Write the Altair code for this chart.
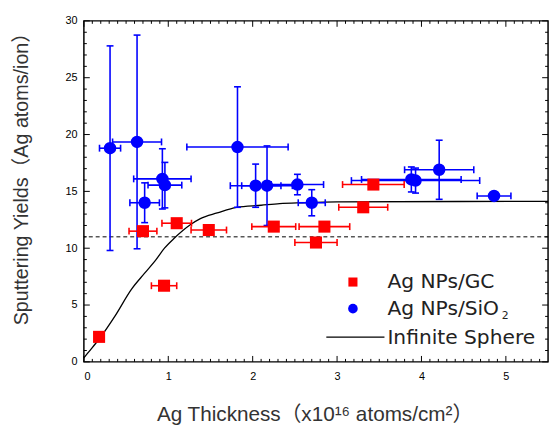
import altair as alt
import pandas as pd
import numpy as np

# ---- data ----
gc_x = [0.18, 0.70, 1.10, 0.95, 1.48, 2.25, 2.85, 2.75, 3.31, 3.43]
gc_y = [2.2, 11.5, 12.2, 6.7, 11.6, 11.9, 11.9, 10.5, 13.6, 15.6]
gc_xerr = [0.0, 0.165, 0.175, 0.15, 0.21, 0.26, 0.30, 0.25, 0.29, 0.365]

sio_x = [0.31, 0.63, 0.72, 0.93, 0.96, 1.82, 2.035, 2.17, 2.53, 2.70, 3.88, 3.93, 4.21, 4.86]
sio_y = [18.8, 19.35, 14.0, 16.1, 15.55, 18.9, 15.5, 15.5, 15.6, 14.0, 16.05, 15.95, 16.9, 14.6]
sio_xerr = [0.125, 0.29, 0.175, 0.34, 0.2, 0.6, 0.3, 0.3, 0.31, 0.16, 0.59, 0.76, 0.41, 0.2]
sio_yerr = [9.0, 9.4, 1.75, 2.65, 2.0, 5.3, 1.9, 3.5, 0.9, 1.15, 1.1, 1.1, 2.6, 0.2]

curve_x = [0.0, 0.04, 0.19, 0.37, 0.565, 0.72, 0.855, 0.955, 1.07, 1.265, 1.38, 1.58, 1.81, 2.10, 2.32, 2.59, 3.0, 5.5]
curve_y = [0.35, 0.72, 2.1, 4.05, 6.4, 7.8, 9.0, 10.0, 10.87, 12.08, 12.6, 13.1, 13.6, 13.78, 13.92, 14.0, 14.08, 14.12]

dashed_y = [11.0]

x_major = [0, 1, 2, 3, 4, 5]
x_minor = [round(v, 1) for v in np.arange(0.1, 5.5, 0.1) if abs(v - round(v)) > 1e-6]
y_major = [0, 5, 10, 15, 20, 25, 30]
y_minor = [v for v in range(1, 30) if v % 5 != 0]

legend_labels = ["Ag NPs/GC", "Ag NPs/SiO", "Infinite Sphere"]

# ---- chart ----
W, H = 471, 346
RED = "#ff0000"
BLUE = "#0000ff"

xs = alt.Scale(domain=[0, 5.5], nice=False, zero=False)
ys = alt.Scale(domain=[0, 30], nice=False, zero=False)

x_axis = alt.Axis(
    title="Ag Thickness（x10¹⁶ atoms/cm²）", values=x_major, format="d",
    ticks=False, domain=False, grid=False, labelFont="Liberation Sans",
    labelFontSize=11, labelColor="black", labelPadding=9,
    titleFont="Liberation Sans, Noto Sans CJK JP", titleFontSize=21, titleFontWeight="normal",
    titleColor="#333333", titleX=234, titleY=59, titleBaseline="alphabetic", titleAnchor="middle",
    titleAlign="center",
)
y_axis = alt.Axis(
    title="Sputtering Yields（Ag atoms/ion）", values=y_major, format="d",
    ticks=False, domain=False, grid=False, labelFont="Liberation Sans",
    labelFontSize=11, labelColor="black", labelPadding=7,
    titleFont="Liberation Sans, Noto Sans CJK JP", titleFontSize=20, titleFontWeight="normal",
    titleColor="#333333", titleX=-63, titleY=155, titleAngle=-90, titleAlign="center",
    titleBaseline="middle", titleAnchor="middle",
)


def X(f):
    return alt.X(f, type="quantitative", scale=xs, axis=x_axis)


def Y(f):
    return alt.Y(f, type="quantitative", scale=ys, axis=y_axis)


gc = pd.DataFrame({"x": gc_x, "y": gc_y, "xe": gc_xerr})
gc["lo"] = gc["x"] - gc["xe"]
gc["hi"] = gc["x"] + gc["xe"]
gc_e = gc[gc["xe"] > 0]

sio = pd.DataFrame({"x": sio_x, "y": sio_y, "xe": sio_xerr, "ye": sio_yerr})
sio["xlo"] = sio["x"] - sio["xe"]
sio["xhi"] = sio["x"] + sio["xe"]
sio["ylo"] = sio["y"] - sio["ye"]
sio["yhi"] = sio["y"] + sio["ye"]

curve = pd.DataFrame({"x": curve_x, "y": curve_y})
dash = pd.DataFrame({"y": dashed_y})

layers = []

layers.append(alt.Chart(dash).mark_rule(color="black", strokeWidth=1, strokeDash=[4, 3]).encode(y=Y("y")))
layers.append(alt.Chart(curve).mark_line(color="black", strokeWidth=1.3, interpolate="monotone").encode(x=X("x"), y=Y("y")))

# SiO2 error bars
layers.append(alt.Chart(sio).mark_rule(color=BLUE, strokeWidth=1.6).encode(x=X("x"), y=Y("ylo"), y2="yhi"))
layers.append(alt.Chart(sio).mark_rule(color=BLUE, strokeWidth=1.6).encode(x=X("xlo"), x2="xhi", y=Y("y")))
for f in ["ylo", "yhi"]:
    layers.append(alt.Chart(sio).mark_tick(color=BLUE, orient="horizontal", size=7, thickness=1.6, opacity=1).encode(x=X("x"), y=Y(f)))
for f in ["xlo", "xhi"]:
    layers.append(alt.Chart(sio).mark_tick(color=BLUE, orient="vertical", size=7, thickness=1.6, opacity=1).encode(x=X(f), y=Y("y")))

# GC error bars
layers.append(alt.Chart(gc_e).mark_rule(color=RED, strokeWidth=1.6).encode(x=X("lo"), x2="hi", y=Y("y")))
for f in ["lo", "hi"]:
    layers.append(alt.Chart(gc_e).mark_tick(color=RED, orient="vertical", size=7, thickness=1.6, opacity=1).encode(x=X(f), y=Y("y")))

# points
layers.append(alt.Chart(sio).mark_point(shape="circle", filled=True, color=BLUE, size=160, opacity=1).encode(x=X("x"), y=Y("y")))
layers.append(alt.Chart(gc).mark_point(shape="square", filled=True, color=RED, size=150, opacity=1).encode(x=X("x"), y=Y("y")))

# frame ticks (inward)
xmaj = pd.DataFrame({"v": x_major})
xmin = pd.DataFrame({"v": x_minor})
ymaj = pd.DataFrame({"v": y_major})
ymin = pd.DataFrame({"v": y_minor})
for df, ln in [(xmaj, 6), (xmin, 3)]:
    layers.append(alt.Chart(df).mark_rule(color="black", strokeWidth=1).encode(x=X("v"), y=alt.value(H), y2=alt.value(H - ln)))
    layers.append(alt.Chart(df).mark_rule(color="black", strokeWidth=1).encode(x=X("v"), y=alt.value(0), y2=alt.value(ln)))
for df, ln in [(ymaj, 6), (ymin, 3)]:
    layers.append(alt.Chart(df).mark_rule(color="black", strokeWidth=1).encode(y=Y("v"), x=alt.value(0), x2=alt.value(ln)))
    layers.append(alt.Chart(df).mark_rule(color="black", strokeWidth=1).encode(y=Y("v"), x=alt.value(W), x2=alt.value(W - ln)))

# legend (drawn inside the plot)
one = pd.DataFrame({"a": [0]})
LX, LT = 273, 308
layers.append(alt.Chart(one).mark_point(shape="square", filled=True, color=RED, size=85, opacity=1).encode(x=alt.value(LX), y=alt.value(265)))
layers.append(alt.Chart(one).mark_point(shape="circle", filled=True, color=BLUE, size=95, opacity=1).encode(x=alt.value(LX), y=alt.value(292)))
layers.append(alt.Chart(one).mark_rule(color="black", strokeWidth=1.3).encode(x=alt.value(246), x2=alt.value(305), y=alt.value(321)))
txt = dict(font="DejaVu Sans", fontSize=20.5, color="#222222", align="left", baseline="middle")
layers.append(alt.Chart(one).mark_text(text=legend_labels[0], **txt).encode(x=alt.value(LT), y=alt.value(265)))
layers.append(alt.Chart(one).mark_text(text=legend_labels[1], **txt).encode(x=alt.value(LT), y=alt.value(292)))
layers.append(alt.Chart(one).mark_text(text="2", font="DejaVu Sans", fontSize=11, color="#222222", align="left", baseline="middle").encode(x=alt.value(424), y=alt.value(300)))
layers.append(alt.Chart(one).mark_text(text=legend_labels[2], **txt).encode(x=alt.value(LT), y=alt.value(322)))

chart = alt.layer(*layers).properties(
    width=W, height=H,
    autosize=alt.AutoSizeParams(type="none"),
    padding={"left": 77, "top": 10, "right": 4, "bottom": 62},
    background="white",
).configure_view(stroke="black", strokeWidth=1.5)

chart.save("out.html", embed_options={"renderer": "svg", "actions": False})
